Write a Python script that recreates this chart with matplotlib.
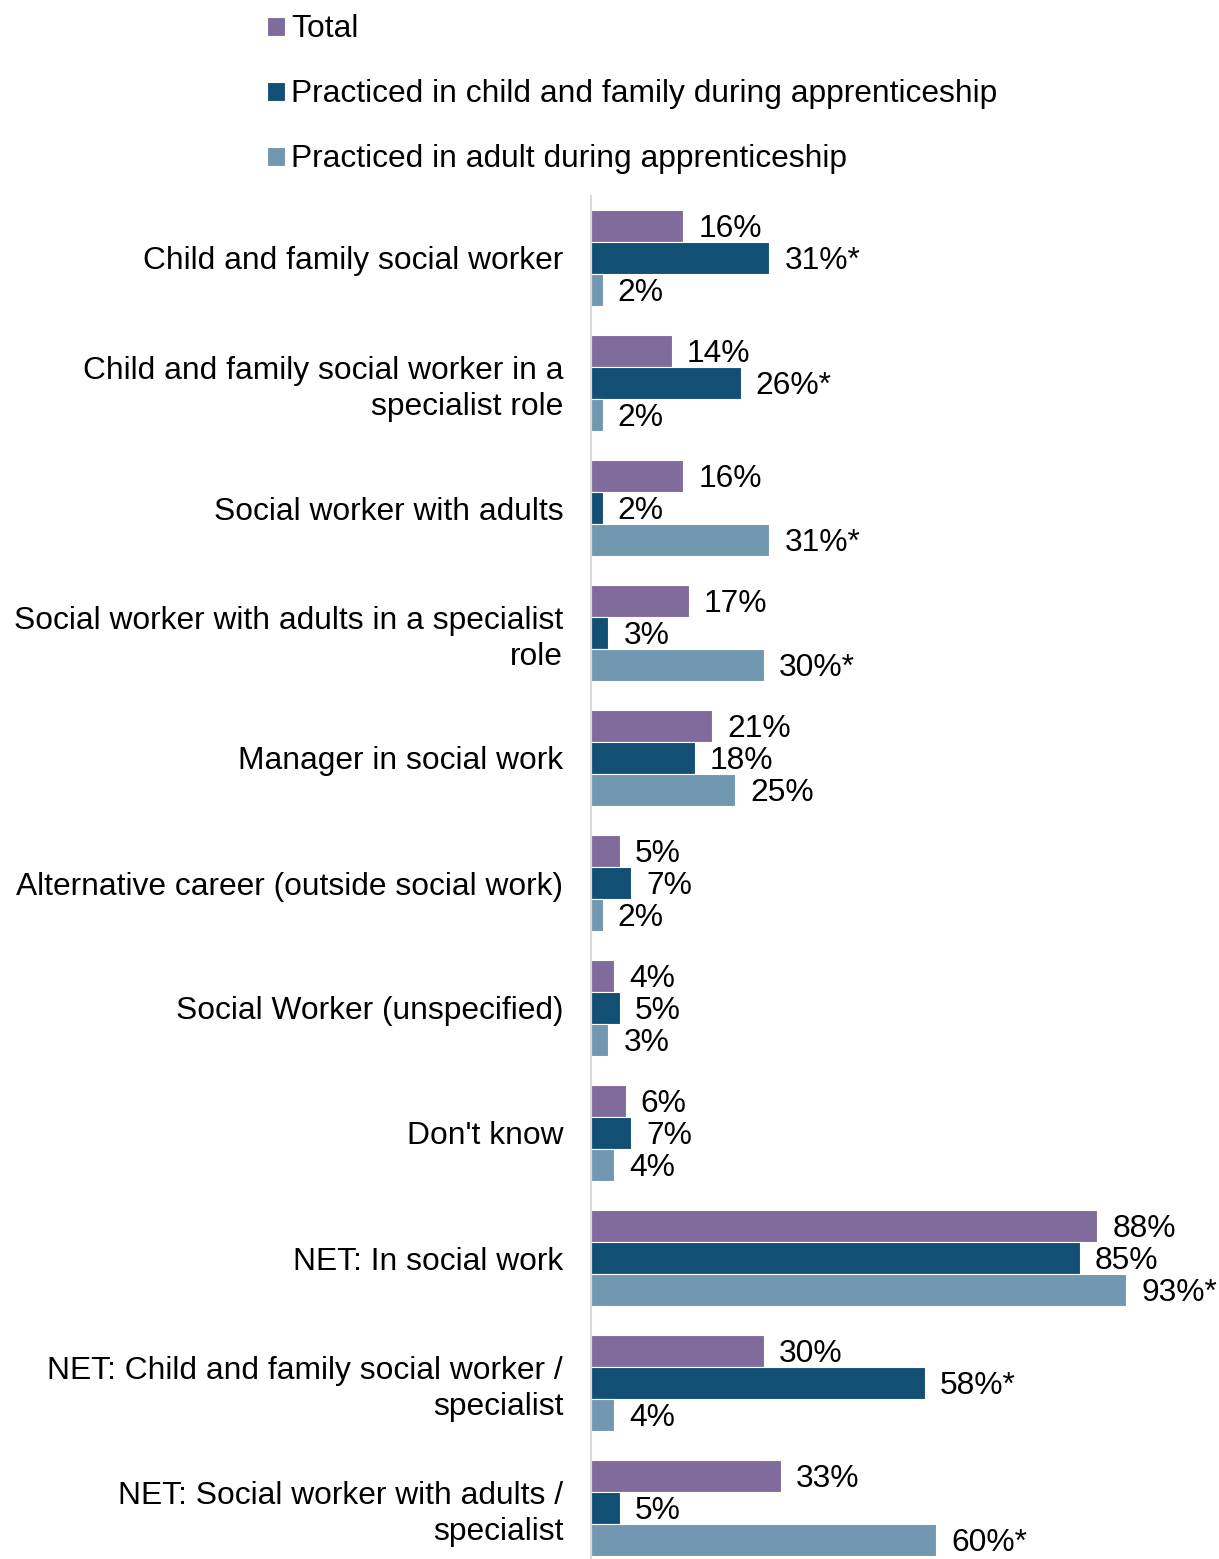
import numpy as np
import matplotlib.pyplot as plt

plt.rcParams['font.family'] = ['Liberation Sans', 'DejaVu Sans']

categories = [
    'Child and family social worker',
    'Child and family social worker in a\nspecialist role',
    'Social worker with adults',
    'Social worker with adults in a specialist\nrole',
    'Manager in social work',
    'Alternative career (outside social work)',
    'Social Worker (unspecified)',
    "Don't know",
    'NET: In social work',
    'NET: Child and family social worker /\nspecialist',
    'NET: Social worker with adults /\nspecialist',
]
total = [16, 14, 16, 17, 21, 5, 4, 6, 88, 30, 33]
child_family = [31, 26, 2, 3, 18, 7, 5, 7, 85, 58, 5]
adult = [2, 2, 31, 30, 25, 2, 3, 4, 93, 4, 60]
child_family_sig = [True, True, False, False, False, False, False, False, False, True, False]
adult_sig = [False, False, True, True, False, False, False, False, True, False, True]

series = [
    ('Total', total, [False] * len(total), '#7F6B9C'),
    ('Practiced in child and family during apprenticeship', child_family, child_family_sig, '#124F74'),
    ('Practiced in adult during apprenticeship', adult, adult_sig, '#7297B0'),
]

W, H = 1219, 1559
fig = plt.figure(figsize=(W / 100, H / 100), dpi=100)
ax = fig.add_axes([591 / W, 1 - 1570.5 / H, 575 / W, 1375 / H])

y = np.arange(len(categories))
h = 0.256
fs = 22.9

for k, (name, vals, sig, col) in enumerate(series):
    pos = y + (k - 1) * h
    ax.barh(pos, vals, height=h, color=col, edgecolor='white', linewidth=0.8, label=name)
    for p, v, s in zip(pos, vals, sig):
        ax.annotate(f'{v}%' + ('*' if s else ''), (v, p), xytext=(11, -2),
                    textcoords='offset points', va='center', ha='left', fontsize=fs)

ax.set_xlim(0, 100)
ax.set_ylim(len(categories) - 0.5, -0.5)
ax.set_yticks(y)
ax.set_yticklabels(categories, fontsize=fs, linespacing=1.25)
ax.tick_params(axis='y', length=0, pad=20)
ax.set_xticks([])
for s in ['top', 'right', 'bottom']:
    ax.spines[s].set_visible(False)
ax.spines['left'].set_color('#D9D9D9')
ax.spines['left'].set_linewidth(1.5)

fig.legend(loc='upper left', bbox_to_anchor=(261 / W, 1 - 8 / H), frameon=False, fontsize=fs,
           handlelength=0.55, handleheight=0.55, handletextpad=0.2, labelspacing=1.1,
           borderaxespad=0.0, borderpad=0.2)

fig.savefig('out.png', dpi=100)
